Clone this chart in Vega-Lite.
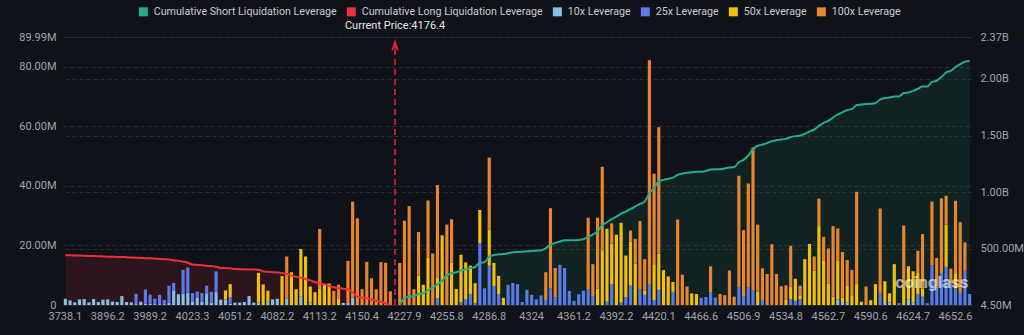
{
"$schema": "https://vega.github.io/schema/vega-lite/v6.json",
"width": 909, "height": 268,
"autosize": {"type": "none"},
"padding": {"left": 63, "top": 37, "right": 52, "bottom": 30},
"background": "#0f1218",
"config": {
  "view": {"stroke": null},
  "font": "Roboto",
  "axis": {"labelColor": "#a0a4ac", "labelFontSize": 11, "ticks": false, "domain": false, "gridColor": "#2a2e37", "gridDash": [4, 3], "gridWidth": 1, "title": null}
},
"data": {"values": [
{"p":"3738.1","x010":2.1,"lg":444},{"p":"3750.5","x010":1.5,"lg":443},{"p":"3769.1","x010":0.9,"lg":442},{"p":"3787.7","x010":1.9,"lg":441},{"p":"3806.3","x010":2.0,"lg":440},{"p":"3818.7","x010":0.9,"lg":438},{"p":"3837.3","x010":2.0,"lg":437},{"p":"3855.9","x010":1.0,"lg":435},{"p":"3874.5","x010":1.8,"lg":433},{"p":"3896.2","x010":1.9,"lg":431},
{"p":"3905.5","x010":1.2,"lg":430},{"p":"3914.8","x010":1.0,"lg":429},{"p":"3927.2","x010":3.0,"lg":429},{"p":"3936.5","x010":1.0,"lg":426},{"p":"3948.9","x010":0.9,"lg":424},{"p":"3958.2","x010":0.3,"x025":3.4,"lg":422},{"p":"3970.6","x010":1.1,"lg":420},{"p":"3979.9","x010":0.5,"x025":4.7,"lg":418},{"p":"3989.2","x010":0.4,"x025":3.1,"lg":417},{"p":"3992.3","x010":0.3,"x025":1.8,"lg":414},
{"p":"3995.4","x010":0.3,"x025":3.1,"lg":411},{"p":"3998.5","x010":0.3,"x025":1.4,"lg":408},{"p":"4004.7","x010":0.8,"x025":5.7,"lg":406},{"p":"4007.8","x010":4.7,"x025":2.7,"lg":399},{"p":"4010.9","x010":3.6,"lg":394},{"p":"4017.1","x010":3.8,"x025":8.0,"lg":387},{"p":"4020.2","x010":4.2,"x025":8.4,"lg":378},{"p":"4023.3","x010":1.2,"x025":2.8,"lg":362},{"p":"4026.4","x010":2.4,"x025":2.1,"lg":358},{"p":"4029.5","x010":1.1,"x025":2.9,"lg":355},
{"p":"4032.6","x010":3.9,"x025":2.6,"lg":351},{"p":"4035.7","x010":0.8,"x025":3.6,"lg":348},{"p":"4038.8","x010":4.3,"x025":7.0,"lg":343},{"p":"4041.9","x010":1.8,"lg":332},{"p":"4045","x010":1.8,"x050":3.1,"lg":330},{"p":"4048.1","x010":0.5,"x025":2.1,"x050":4.4,"lg":328},{"p":"4051.2","x010":0.8,"lg":322},{"p":"4054.3","x010":0.8,"lg":320},{"p":"4057.4","x010":1.0,"lg":319},{"p":"4060.5","x010":3.0,"lg":318},
{"p":"4063.6","x010":0.8,"lg":317},{"p":"4066.7","x010":0.8,"x050":10.0,"lg":316},{"p":"4069.8","x050":6.9,"lg":302},{"p":"4072.9","x010":1.1,"x050":3.7,"lg":297},{"p":"4079.1","x010":1.9,"lg":293},{"p":"4082.2","x010":2.1,"lg":291},{"p":"4085.3","x050":9.7,"lg":288},{"p":"4088.4","x010":2.2,"x100":14.1,"lg":278},{"p":"4091.5","x050":11.0,"lg":264},{"p":"4094.6","x050":5.3,"lg":254},
{"p":"4097.7","x010":2.8,"x050":16.0,"lg":246},{"p":"4103.9","x050":16.3,"lg":234},{"p":"4107","x010":0.9,"x050":5.3,"lg":222},{"p":"4110.1","x050":4.3,"lg":205},{"p":"4113.2","x050":5.6,"x100":19.9,"lg":196},{"p":"4116.3","x050":7.0,"lg":187},{"p":"4119.4","x050":7.2,"lg":175},{"p":"4125.6","x100":4.7,"lg":161},{"p":"4128.7","x050":2.3,"x100":4.5,"lg":155},{"p":"4134.9","x010":0.7,"lg":148},
{"p":"4138","x010":0.7,"x100":14.1,"lg":143},{"p":"4141.1","x010":2.5,"x100":32.2,"lg":117},{"p":"4147.3","x100":29.1,"lg":78},{"p":"4150.4","x100":5.3,"lg":70},{"p":"4153.5","x100":14.5,"lg":64},{"p":"4156.6","x100":9.0,"lg":53},{"p":"4159.7","x100":5.3,"lg":42},{"p":"4162.8","x100":14.4,"lg":33},{"p":"4165.9","x100":14.2,"lg":19},{"p":"4169","x100":4.6,"lg":4.5},
{"p":"4176.4"},
{"p":"4181.3","x100":14.1,"sh":10.7},{"p":"4227.9","x100":28.3,"sh":64},{"p":"4231","x100":33.2,"sh":78},{"p":"4234.1","x100":5.3,"sh":84},{"p":"4237.2","x050":9.8,"x100":14.7,"sh":99},{"p":"4240.3","x050":6.8,"sh":108},{"p":"4243.4","x050":16.0,"x100":19.1,"sh":137},{"p":"4246.5","x100":17.3,"sh":157},{"p":"4249.6","x025":2.3,"x050":7.0,"x100":31.0,"sh":187},
{"p":"4252.7","x050":23.4,"sh":219},{"p":"4255.8","x100":27.0,"sh":267},{"p":"4258.9","x050":14.3,"x100":14.5,"sh":285},{"p":"4262","x050":5.4,"sh":293},{"p":"4265.1","x025":1.0,"x050":15.9,"sh":308},{"p":"4268.2","x025":1.9,"x050":12.4,"sh":320},{"p":"4271.3","x025":3.7,"x050":9.5,"sh":331},{"p":"4274.4","x025":0.6,"x050":6.7,"sh":340},{"p":"4277.5","x025":20.8,"x050":11.1,"sh":378},{"p":"4283.7","x025":5.6,"sh":382},
{"p":"4286.8","x025":13.2,"x050":12.1,"x100":24.2,"sh":431},{"p":"4289.9","x025":6.4,"x050":7.7,"sh":446},{"p":"4293","x025":3.6,"x050":6.2,"sh":452},{"p":"4299.2","x050":2.4,"sh":455},{"p":"4302.3","x025":6.8,"sh":461},{"p":"4308.5","x025":7.4,"sh":470},{"p":"4311.6","x025":7.0,"sh":473},{"p":"4317.8","x025":1.0,"sh":475},{"p":"4320.9","x025":5.1,"sh":479},{"p":"4324","x025":3.4,"sh":482},
{"p":"4327.1","x025":1.9,"sh":484},{"p":"4330.2","x025":3.2,"sh":488},{"p":"4336.4","x025":1.7,"x100":9.3,"sh":505},{"p":"4339.5","x025":5.6,"x100":26.9,"sh":537},{"p":"4345.7","x025":2.6,"x100":9.8,"sh":552},{"p":"4348.8","x025":13.5,"sh":564},{"p":"4355","x025":12.4,"sh":576},{"p":"4358.1","x025":4.7,"sh":576},{"p":"4361.2","x025":1.4,"sh":576},{"p":"4364.3","x025":3.6,"sh":579},
{"p":"4367.4","x025":4.8,"sh":585},{"p":"4370.5","x025":5.3,"x100":24.0,"sh":605},{"p":"4373.6","x025":3.0,"x100":10.7,"sh":626},{"p":"4376.7","x050":5.6,"x100":23.7,"sh":656},{"p":"4379.8","x050":18.4,"x100":28.0,"sh":709},{"p":"4386","x025":1.1,"x050":24.5,"sh":735},{"p":"4389.1","x025":7.0,"x050":13.6,"x100":6.8,"sh":762},{"p":"4392.2","x050":23.6,"sh":785},{"p":"4395.3","x025":0.8,"x050":26.8,"sh":811},{"p":"4398.4","x025":2.6,"x050":14.0,"sh":829},
{"p":"4401.5","x025":6.5,"x050":14.9,"x100":3.6,"sh":853},{"p":"4404.6","x050":13.9,"x100":8.3,"sh":873},{"p":"4407.7","x025":5.3,"x100":22.9,"sh":897},{"p":"4410.8","x025":3.4,"x050":1.4,"x100":10.6,"sh":917},{"p":"4413.9","x025":7.0,"x100":75.2,"sh":991},{"p":"4417","x025":1.7,"x050":12.0,"x100":30.4,"sh":1036},{"p":"4420.1","x025":5.1,"x050":12.1,"x100":42.5,"sh":1097},{"p":"4423.2","x050":11.7,"sh":1109},{"p":"4429.4","x050":9.6,"sh":1118},{"p":"4435.6","x025":4.4,"x050":3.3,"sh":1129},
{"p":"4441.8","x100":28.7,"sh":1153},{"p":"4448","x100":10.2,"sh":1165},{"p":"4454.2","x100":6.2,"sh":1171},{"p":"4457.3","x050":3.9,"sh":1177},{"p":"4463.5","x050":3.7,"sh":1180},{"p":"4466.6","x025":2.4,"sh":1180},{"p":"4469.7","x025":2.7,"sh":1188},{"p":"4475.9","x025":4.3,"x100":8.7,"sh":1200},{"p":"4479","x025":2.5,"sh":1203},{"p":"4485.2","x100":3.7,"sh":1203},
{"p":"4488.3","x100":3.3,"sh":1209},{"p":"4494.5","x100":11.6,"sh":1218},{"p":"4497.6","x100":2.8,"sh":1221},{"p":"4503.8","x025":6.0,"x100":37.4,"sh":1265},{"p":"4506.9","x025":2.8,"x100":22.3,"sh":1286},{"p":"4510","x025":5.9,"x100":34.9,"sh":1324},{"p":"4513.1","x025":4.8,"x100":48.1,"sh":1380},{"p":"4516.2","x050":4.5,"x100":22.5,"sh":1410},{"p":"4519.3","x025":1.7,"x100":10.6,"sh":1421},{"p":"4522.4","x100":10.4,"sh":1433},
{"p":"4525.5","x100":20.4,"sh":1451},{"p":"4528.6","x100":10.4,"sh":1460},{"p":"4531.7","x100":6.3,"sh":1465},{"p":"4534.8","x050":1.7,"x100":4.9,"sh":1471},{"p":"4537.9","x025":1.9,"x050":4.3,"x100":13.7,"sh":1486},{"p":"4541","x025":1.4,"x050":7.4,"sh":1495},{"p":"4544.1","x025":1.9,"x050":1.3,"x100":3.3,"sh":1500},{"p":"4547.2","x050":15.4,"sh":1515},{"p":"4550.3","x050":20.5,"sh":1536},{"p":"4553.4","x050":11.5,"x100":4.8,"sh":1553},
{"p":"4556.5","x050":26.5,"x100":9.2,"sh":1586},{"p":"4559.6","x050":15.0,"x100":7.9,"sh":1613},{"p":"4562.7","x050":7.1,"x100":11.9,"sh":1630},{"p":"4565.8","x050":2.8,"x100":23.7,"sh":1659},{"p":"4568.9","x010":1.9,"x050":12.9,"x100":10.9,"sh":1686},{"p":"4572","x010":1.0,"x050":1.6,"x100":15.2,"sh":1704},{"p":"4575.1","x010":0.8,"x050":5.6,"x100":8.7,"sh":1725},{"p":"4578.2","x050":3.3,"x100":8.5,"sh":1734},{"p":"4581.3","x050":7.1,"x100":30.9,"sh":1769},{"p":"4584.4","x050":1.1,"sh":1774},
{"p":"4587.5","x100":6.2,"sh":1778},{"p":"4590.6","x050":1.6,"sh":1780},{"p":"4593.7","x050":7.0,"sh":1787},{"p":"4596.8","x025":3.9,"x100":28.5,"sh":1819},{"p":"4599.9","x010":1.0,"x050":7.0,"sh":1831},{"p":"4606.1","x010":0.8,"x050":3.1,"sh":1836},{"p":"4609.2","x050":13.7,"sh":1845},{"p":"4612.3","x025":0.6,"sh":1845},{"p":"4618.5","x050":6.2,"x100":20.5,"sh":1875},{"p":"4621.6","x010":1.9,"x050":11.1,"sh":1880},
{"p":"4624.7","x010":0.8,"x050":10.5,"sh":1895},{"p":"4627.8","x025":3.7,"x050":7.3,"x100":7.2,"sh":1913},{"p":"4630.9","x025":2.8,"x050":2.8,"x100":18.2,"sh":1933},{"p":"4634","x025":0.6,"sh":1933},{"p":"4637.1","x025":13.3,"x100":21.4,"sh":1972},{"p":"4640.2","x025":6.2,"x100":9.6,"sh":1984},{"p":"4643.3","x025":10.7,"x100":25.1,"sh":2016},{"p":"4646.4","x025":12.8,"x050":14.2,"x100":9.7,"sh":2057},{"p":"4649.5","x025":7.3,"x100":4.9,"sh":2072},{"p":"4652.6","x025":5.6,"x050":5.1,"x100":24.3,"sh":2105},
{"p":"4655.7","x025":3.9,"x100":23.9,"sh":2131},{"p":"4658.8","x025":11.5,"x100":9.5,"sh":2152},{"p":"4661.9","x025":3.7,"sh":2158}
]},
"layer": [
  {
    "layer": [
      {
        "transform": [{"filter": "isValid(datum.lg)"}],
        "mark": {"type": "area", "color": "#ee2f3c", "opacity": 0.13, "interpolate": "monotone"},
        "encoding": {
          "x": {"field": "p", "type": "ordinal"},
          "y": {"field": "lg", "type": "quantitative", "scale": {"domain": [4.5, 2370], "nice": false, "zero": false},
                "axis": {"orient": "right", "values": [4.5, 500, 1000, 1500, 2000, 2370], "labelExpr": "datum.value >= 1000 ? format(datum.value / 1000, '.2f') + 'B' : format(datum.value, '.2f') + 'M'", "grid": true, "labelPadding": 8, "labelFlush": false}},
          "y2": {"datum": 4.5}
        }
      },
      {
        "transform": [{"filter": "isValid(datum.sh)"}],
        "mark": {"type": "area", "color": "#23ad8e", "opacity": 0.1, "interpolate": "monotone"},
        "encoding": {
          "x": {"field": "p", "type": "ordinal"},
          "y": {"field": "sh", "type": "quantitative"},
          "y2": {"datum": 4.5}
        }
      }
    ]
  },
  {
    "layer": [
      {
        "transform": [
          {"fold": ["x010", "x025", "x050", "x100"], "as": ["lev", "val"]},
          {"filter": "datum.val > 0"}
        ],
        "mark": {"type": "bar"},
        "encoding": {
          "x": {"field": "p", "type": "ordinal", "scale": {"paddingInner": 0.33, "paddingOuter": 0.165},
                "axis": {"values": ["3738.1","3896.2","3989.2","4023.3","4051.2","4082.2","4113.2","4150.4","4227.9","4255.8","4286.8","4324","4361.2","4392.2","4420.1","4466.6","4506.9","4534.8","4562.7","4590.6","4624.7","4652.6"],
                         "labelAngle": 0, "labelAlign": "center", "labelPadding": 11, "labelOverlap": false, "domain": true, "domainColor": "#262a33"}},
          "y": {"field": "val", "type": "quantitative", "stack": "zero", "scale": {"domain": [0, 89.99], "nice": false},
                "axis": {"orient": "left", "values": [0, 20, 40, 60, 80, 89.99], "labelExpr": "datum.value == 0 ? '0' : format(datum.value, '.2f') + 'M'", "grid": true, "labelPadding": 7, "labelFlush": false}},
          "color": {"field": "lev", "type": "nominal", "title": null,
                    "scale": {"domain": ["Cumulative Short Liquidation Leverage", "Cumulative Long Liquidation Leverage", "x010", "x025", "x050", "x100"],
                              "range": ["#23ad8e", "#ee2f3c", "#86bfe8", "#5b7be9", "#f2bf0a", "#e8852f"]},
                    "legend": {"orient": "none", "legendX": 75, "legendY": -31, "direction": "horizontal", "symbolType": "square", "symbolSize": 81,
                               "labelLimit": 400, "labelColor": "#c9ccd2", "labelFontSize": 10.7, "columnPadding": 9, "labelOffset": 5, "symbolStrokeWidth": 0,
                               "labelExpr": "datum.label == 'x010' ? '10x Leverage' : datum.label == 'x025' ? '25x Leverage' : datum.label == 'x050' ? '50x Leverage' : datum.label == 'x100' ? '100x Leverage' : datum.label"}},
          "order": {"field": "lev", "type": "ordinal", "sort": "ascending"}
        }
      },
      {
        "data": {"values": [{"p": "4176.4", "label": "Current Price:4176.4"}]},
        "mark": {"type": "rule", "color": "#e3202d", "strokeDash": [6, 4], "strokeWidth": 1.6},
        "encoding": {"x": {"field": "p", "type": "ordinal"}, "y": {"datum": 0}, "y2": {"datum": 86.5}}
      },
      {
        "data": {"values": [{"p": "4176.4", "label": "Current Price:4176.4"}]},
        "mark": {"type": "point", "shape": "M0,-1L0.65,1L0,0.55L-0.65,1Z", "filled": true, "color": "#e3202d", "size": 144, "opacity": 1},
        "encoding": {"x": {"field": "p", "type": "ordinal"}, "y": {"datum": 87.3}}
      },
      {
        "data": {"values": [{"p": "4176.4", "label": "Current Price:4176.4"}]},
        "mark": {"type": "text", "color": "#e6e6e6", "fontSize": 11, "dy": -11, "baseline": "middle"},
        "encoding": {"x": {"field": "p", "type": "ordinal"}, "y": {"datum": 89.99}, "text": {"field": "label"}}
      },
      {
        "data": {"values": [{"p": "4637.1", "label": "coinglass"}]},
        "mark": {"type": "text", "color": "#ffffff", "opacity": 0.6, "fontSize": 17, "fontWeight": "bold", "baseline": "middle"},
        "encoding": {"x": {"field": "p", "type": "ordinal"}, "y": {"datum": 7.5}, "text": {"field": "label"}}
      }
    ]
  },
  {
    "layer": [
      {
        "transform": [{"filter": "isValid(datum.lg)"}],
        "mark": {"type": "line", "color": "#ee2f3c", "strokeWidth": 2, "interpolate": "monotone"},
        "encoding": {
          "x": {"field": "p", "type": "ordinal"},
          "y": {"field": "lg", "type": "quantitative", "scale": {"domain": [4.5, 2370], "nice": false, "zero": false}, "axis": null}
        }
      },
      {
        "transform": [{"filter": "isValid(datum.sh)"}],
        "mark": {"type": "line", "color": "#23ad8e", "strokeWidth": 2, "interpolate": "monotone"},
        "encoding": {
          "x": {"field": "p", "type": "ordinal"},
          "y": {"field": "sh", "type": "quantitative"}
        }
      }
    ]
  }
],
"resolve": {"scale": {"y": "independent"}, "axis": {"y": "independent"}}
}
